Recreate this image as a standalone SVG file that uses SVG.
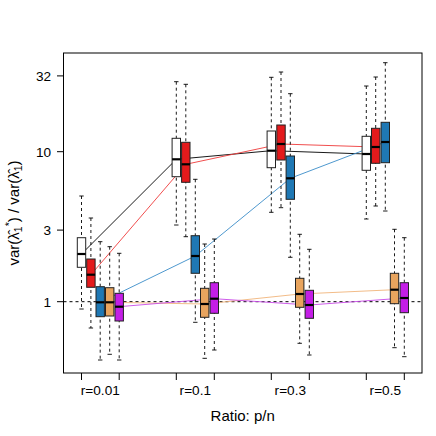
<svg xmlns="http://www.w3.org/2000/svg" width="436" height="436" viewBox="0 0 436 436">
<style>
text{font-family:"Liberation Sans",Arial,sans-serif;fill:#000}
.tl{font-size:13.6px}
.al{font-size:15px}
.ax{stroke:#000;stroke-width:1;fill:none}
.wh{stroke:#000;stroke-width:0.9;stroke-dasharray:3,3;fill:none}
.cap{stroke:#000;stroke-width:0.9}
.bx{stroke:#222;stroke-width:1}
.md{stroke:#000;stroke-width:2.2}
.w{fill:#fff}.r{fill:#e31a1c}.b{fill:#1f78b4}.o{fill:#e8a45e}.p{fill:#c41ee6}
.cl{fill:none;stroke-width:0.9}
</style>
<rect width="436" height="436" fill="#fff"/>
<g id="frame">
<rect class="ax" x="63.5" y="53" width="358.5" height="320"/>
<g class="ax">
<line x1="57" y1="75.9" x2="63.5" y2="75.9"/>
<line x1="57" y1="151.7" x2="63.5" y2="151.7"/>
<line x1="57" y1="230.1" x2="63.5" y2="230.1"/>
<line x1="57" y1="301.7" x2="63.5" y2="301.7"/>
<line x1="81.5" y1="373" x2="81.5" y2="380"/><line x1="119.2" y1="373" x2="119.2" y2="380"/>
<line x1="176.3" y1="373" x2="176.3" y2="380"/><line x1="214.3" y1="373" x2="214.3" y2="380"/>
<line x1="271.3" y1="373" x2="271.3" y2="380"/><line x1="309.3" y1="373" x2="309.3" y2="380"/>
<line x1="366.3" y1="373" x2="366.3" y2="380"/><line x1="404.3" y1="373" x2="404.3" y2="380"/>
</g>
<g class="tl" text-anchor="end">
<text x="51" y="80.8">32</text>
<text x="51" y="156.6">10</text>
<text x="51" y="235">3</text>
<text x="51" y="306.6">1</text>
</g>
<g class="tl" text-anchor="middle">
<text x="100.3" y="395">r=0.01</text>
<text x="195.3" y="395">r=0.1</text>
<text x="290.3" y="395">r=0.3</text>
<text x="385.3" y="395">r=0.5</text>
</g>
<text class="al" x="242.7" y="420.5" text-anchor="middle">Ratio: p/n</text>
<text class="al" transform="translate(19,213) rotate(-90)" text-anchor="middle">var(λ̂<tspan font-size="10.5" dy="3">1</tspan><tspan font-size="10.5" dy="-9">*</tspan><tspan dy="6">) / var(λ̂</tspan><tspan font-size="10.5" dy="3">1</tspan><tspan dy="-3">)</tspan></text>
<line class="ax" x1="63.5" y1="301.7" x2="422" y2="301.7" stroke-dasharray="3,3"/>
</g>
<g id="connectors">
<polyline class="cl" stroke="#000" points="81.5,254 176.3,159.3 271.3,150.7 366.3,154"/>
<polyline class="cl" stroke="#ee3a3a" points="90.9,274.7 185.8,164.3 281,144 375.7,147"/>
<polyline class="cl" stroke="#3a8cc8" points="100.2,302.3 195.3,256 290.3,178.3 385.3,142"/>
<polyline class="cl" stroke="#f0b47a" points="109.7,302.3 204.7,304 299.7,294 394.5,289.7"/>
<polyline class="cl" stroke="#c84ae8" points="119.2,306.7 214.3,298.7 309.3,305 404.3,298"/>
</g>
<!-- Group 1 -->
<g id="g1-white"><line class="wh" x1="81.5" y1="196" x2="81.5" y2="309"/><line class="cap" x1="79.3" y1="196" x2="83.7" y2="196"/><line class="cap" x1="79.3" y1="309" x2="83.7" y2="309"/><rect class="bx w" x="77.3" y="237.7" width="8.4" height="29.6"/><line class="md" x1="77.3" y1="254" x2="85.7" y2="254"/></g>
<g id="g1-red"><line class="wh" x1="90.9" y1="218" x2="90.9" y2="328"/><line class="cap" x1="88.7" y1="218" x2="93.1" y2="218"/><line class="cap" x1="88.7" y1="328" x2="93.1" y2="328"/><rect class="bx r" x="86.7" y="259" width="8.4" height="28.3"/><line class="md" x1="86.7" y1="274.7" x2="95.1" y2="274.7"/></g>
<g id="g1-blue"><line class="wh" x1="100.2" y1="241.7" x2="100.2" y2="360"/><line class="cap" x1="98" y1="241.7" x2="102.4" y2="241.7"/><line class="cap" x1="98" y1="360" x2="102.4" y2="360"/><rect class="bx b" x="96" y="286.7" width="8.4" height="30"/><line class="md" x1="96" y1="302.3" x2="104.4" y2="302.3"/></g>
<g id="g1-orange"><line class="wh" x1="109.7" y1="246.7" x2="109.7" y2="354.3"/><line class="cap" x1="107.5" y1="246.7" x2="111.9" y2="246.7"/><line class="cap" x1="107.5" y1="354.3" x2="111.9" y2="354.3"/><rect class="bx o" x="105.5" y="287.7" width="8.4" height="28.3"/><line class="md" x1="105.5" y1="302.3" x2="113.9" y2="302.3"/></g>
<g id="g1-purple"><line class="wh" x1="119.2" y1="253.3" x2="119.2" y2="360"/><line class="cap" x1="117" y1="253.3" x2="121.4" y2="253.3"/><line class="cap" x1="117" y1="360" x2="121.4" y2="360"/><rect class="bx p" x="115" y="293.3" width="8.4" height="27.7"/><line class="md" x1="115" y1="306.7" x2="123.4" y2="306.7"/></g>
<!-- Group 2 -->
<g id="g2-white"><line class="wh" x1="176.3" y1="81.7" x2="176.3" y2="225"/><line class="cap" x1="174.1" y1="81.7" x2="178.5" y2="81.7"/><line class="cap" x1="174.1" y1="225" x2="178.5" y2="225"/><rect class="bx w" x="172.1" y="138.3" width="8.4" height="38.4"/><line class="md" x1="172.1" y1="159.3" x2="180.5" y2="159.3"/></g>
<g id="g2-red"><line class="wh" x1="185.8" y1="84.3" x2="185.8" y2="236.7"/><line class="cap" x1="183.6" y1="84.3" x2="188" y2="84.3"/><line class="cap" x1="183.6" y1="236.7" x2="188" y2="236.7"/><rect class="bx r" x="181.6" y="142.3" width="8.4" height="40"/><line class="md" x1="181.6" y1="164.3" x2="190" y2="164.3"/></g>
<g id="g2-blue"><line class="wh" x1="195.3" y1="179.3" x2="195.3" y2="322.3"/><line class="cap" x1="193.1" y1="179.3" x2="197.5" y2="179.3"/><line class="cap" x1="193.1" y1="322.3" x2="197.5" y2="322.3"/><rect class="bx b" x="191.1" y="235.7" width="8.4" height="37.6"/><line class="md" x1="191.1" y1="256" x2="199.5" y2="256"/></g>
<g id="g2-orange"><line class="wh" x1="204.7" y1="244" x2="204.7" y2="358.3"/><line class="cap" x1="202.5" y1="244" x2="206.9" y2="244"/><line class="cap" x1="202.5" y1="358.3" x2="206.9" y2="358.3"/><rect class="bx o" x="200.5" y="288.3" width="8.4" height="29"/><line class="md" x1="200.5" y1="304" x2="208.9" y2="304"/></g>
<g id="g2-purple"><line class="wh" x1="214.3" y1="239" x2="214.3" y2="350"/><line class="cap" x1="212.1" y1="239" x2="216.5" y2="239"/><line class="cap" x1="212.1" y1="350" x2="216.5" y2="350"/><rect class="bx p" x="210.1" y="282.7" width="8.4" height="30.6"/><line class="md" x1="210.1" y1="298.7" x2="218.5" y2="298.7"/></g>
<!-- Group 3 -->
<g id="g3-white"><line class="wh" x1="271.3" y1="77.3" x2="271.3" y2="212.3"/><line class="cap" x1="269.1" y1="77.3" x2="273.5" y2="77.3"/><line class="cap" x1="269.1" y1="212.3" x2="273.5" y2="212.3"/><rect class="bx w" x="267.1" y="131" width="8.4" height="36.7"/><line class="md" x1="267.1" y1="150.7" x2="275.5" y2="150.7"/></g>
<g id="g3-red"><line class="wh" x1="281" y1="72" x2="281" y2="207.7"/><line class="cap" x1="278.8" y1="72" x2="283.2" y2="72"/><line class="cap" x1="278.8" y1="207.7" x2="283.2" y2="207.7"/><rect class="bx r" x="276.8" y="125" width="8.4" height="35"/><line class="md" x1="276.8" y1="144" x2="285.2" y2="144"/></g>
<g id="g3-blue"><line class="wh" x1="290.3" y1="93.7" x2="290.3" y2="257.3"/><line class="cap" x1="288.1" y1="93.7" x2="292.5" y2="93.7"/><line class="cap" x1="288.1" y1="257.3" x2="292.5" y2="257.3"/><rect class="bx b" x="286.1" y="156" width="8.4" height="43.3"/><line class="md" x1="286.1" y1="178.3" x2="294.5" y2="178.3"/></g>
<g id="g3-orange"><line class="wh" x1="299.7" y1="234.3" x2="299.7" y2="343.3"/><line class="cap" x1="297.5" y1="234.3" x2="301.9" y2="234.3"/><line class="cap" x1="297.5" y1="343.3" x2="301.9" y2="343.3"/><rect class="bx o" x="295.5" y="278.3" width="8.4" height="29"/><line class="md" x1="295.5" y1="294" x2="303.9" y2="294"/></g>
<g id="g3-purple"><line class="wh" x1="309.3" y1="249.3" x2="309.3" y2="355"/><line class="cap" x1="307.1" y1="249.3" x2="311.5" y2="249.3"/><line class="cap" x1="307.1" y1="355" x2="311.5" y2="355"/><rect class="bx p" x="305.1" y="290.3" width="8.4" height="28"/><line class="md" x1="305.1" y1="305" x2="313.5" y2="305"/></g>
<!-- Group 4 -->
<g id="g4-white"><line class="wh" x1="366.3" y1="86" x2="366.3" y2="219"/><line class="cap" x1="364.1" y1="86" x2="368.5" y2="86"/><line class="cap" x1="364.1" y1="219" x2="368.5" y2="219"/><rect class="bx w" x="362.1" y="136.3" width="8.4" height="34"/><line class="md" x1="362.1" y1="154" x2="370.5" y2="154"/></g>
<g id="g4-red"><line class="wh" x1="375.7" y1="77" x2="375.7" y2="206"/><line class="cap" x1="373.5" y1="77" x2="377.9" y2="77"/><line class="cap" x1="373.5" y1="206" x2="377.9" y2="206"/><rect class="bx r" x="371.5" y="128.3" width="8.4" height="35"/><line class="md" x1="371.5" y1="147" x2="379.9" y2="147"/></g>
<g id="g4-blue"><line class="wh" x1="385.3" y1="62.7" x2="385.3" y2="211"/><line class="cap" x1="383.1" y1="62.7" x2="387.5" y2="62.7"/><line class="cap" x1="383.1" y1="211" x2="387.5" y2="211"/><rect class="bx b" x="381.1" y="122.3" width="8.4" height="40.4"/><line class="md" x1="381.1" y1="142" x2="389.5" y2="142"/></g>
<g id="g4-orange"><line class="wh" x1="394.5" y1="229.3" x2="394.5" y2="347.7"/><line class="cap" x1="392.3" y1="229.3" x2="396.7" y2="229.3"/><line class="cap" x1="392.3" y1="347.7" x2="396.7" y2="347.7"/><rect class="bx o" x="390.3" y="273.3" width="8.4" height="30.4"/><line class="md" x1="390.3" y1="289.7" x2="398.7" y2="289.7"/></g>
<g id="g4-purple"><line class="wh" x1="404.3" y1="237.7" x2="404.3" y2="356.7"/><line class="cap" x1="402.1" y1="237.7" x2="406.5" y2="237.7"/><line class="cap" x1="402.1" y1="356.7" x2="406.5" y2="356.7"/><rect class="bx p" x="400.1" y="282.7" width="8.4" height="30"/><line class="md" x1="400.1" y1="298" x2="408.5" y2="298"/></g>
</svg>
